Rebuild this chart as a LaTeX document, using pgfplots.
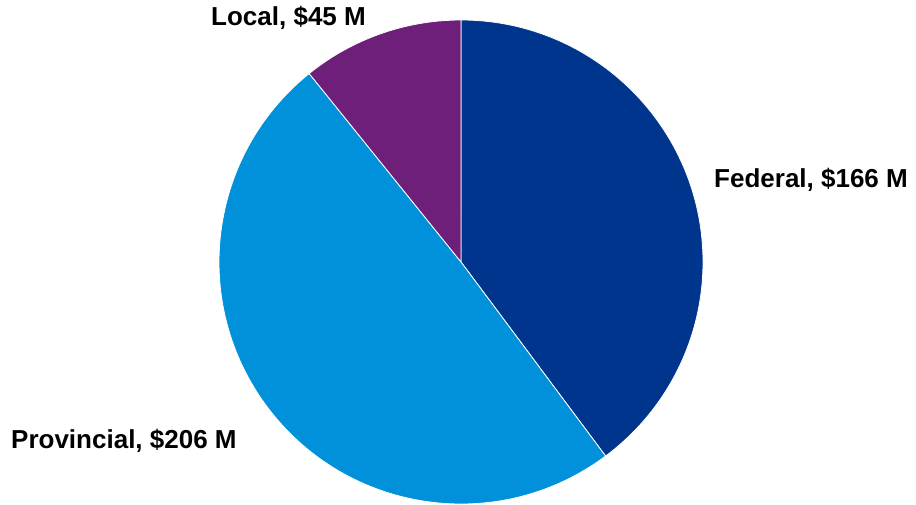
\documentclass[border=0pt]{standalone}
\usepackage{pgfplots}
\pgfplotsset{compat=1.18}
\usepackage{fontspec}
\setmainfont{Liberation Sans}

\definecolor{fedblue}{HTML}{00358E}
\definecolor{provblue}{HTML}{0091DA}
\definecolor{localpurple}{HTML}{6D1F7A}

\begin{document}
\begin{tikzpicture}
\begin{axis}[
    x=1pt, y=1pt,
    xmin=0, xmax=916, ymin=0, ymax=504,
    hide axis, clip=false,
    anchor=origin, at={(0,0)},
]
  % wedges, clockwise from the top
  \pgfplotsextra{
    \pgfmathsetmacro{\total}{166+206+45}
    \xdef\start{90}
    \foreach \v/\col in {166/fedblue, 206/provblue, 45/localpurple}{
      \pgfmathsetmacro{\e}{\start-\v/\total*360}
      \fill[\col, draw=white, line width=0.8pt, line join=round]
        (axis cs:461,242) -- ++(\start:242pt)
        arc[start angle=\start, end angle=\e, radius=242pt] -- cycle;
      \xdef\start{\e}
    }
  }

  \tikzset{lbl/.style={anchor=base west, inner sep=0pt,
      font=\fontsize{26}{31}\selectfont\bfseries}}
  \node[lbl] at (axis cs:211,478) {Local, \$45 M};
  \node[lbl] at (axis cs:714,316) {Federal, \$166 M};
  \node[lbl] at (axis cs:11,56) {Provincial, \$206 M};
\end{axis}
% the arcs' control points would widen the page: keep it to the axis box
\pgfresetboundingbox
\useasboundingbox (0,0) rectangle (916pt,504pt);
\end{tikzpicture}
\end{document}
